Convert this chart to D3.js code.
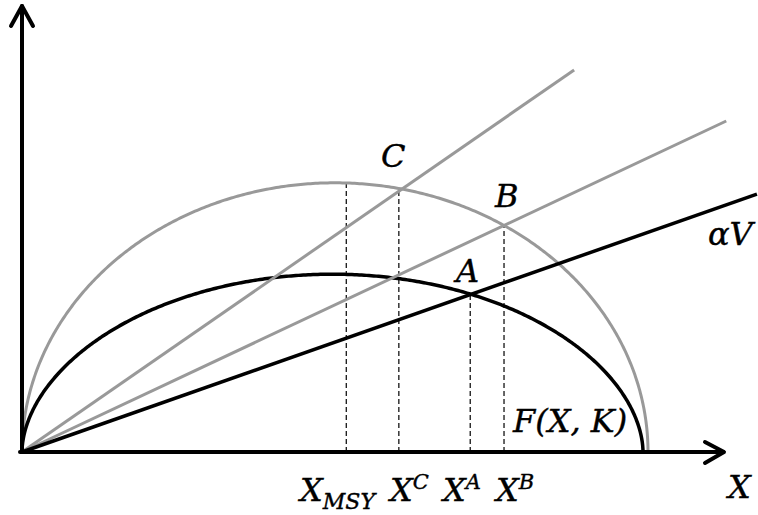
<!DOCTYPE html>
<meta charset="utf-8">
<style>
body { margin: 0; background: #fff; }
svg { display: block; }
.lbl { font-family: "DejaVu Serif", "Liberation Serif", serif; font-style: italic; fill: #000; stroke: #000; stroke-width: 0.4px; }
</style>
<body>
<div id="chart"></div>
<script src="https://d3js.org/d3.v7.min.js"></script>
<script>

// growth curves: gray (upper) and black F(X,K)
var curveNames = ["gray", "black"];
var curveK = [100, 99.2];
var curvePeak = [43.0, 28.4];
var curveExp = [0.5, 0.54];
var curveColors = ["#999999", "#000000"];

// rays from origin: C, B, alphaV
var rayNames = ["C", "B", "αV"];
var raySlopes = [0.692, 0.470, 0.351];
var rayEnds = [88.2, 112.5, 117.4];
var rayColors = ["#999999", "#999999", "#000000"];

// dashed drop lines
var markNames = ["MSY", "C", "A", "B"];
var markX = [51.8, 60.2, 71.6, 77.0];
var markCurve = [0, 0, 1, 0];

var width = 758, height = 515;
var x0 = 22, y0 = 452;

var x = d3.scaleLinear().domain([0, 100]).range([x0, 648]);
var y = d3.scaleLinear().domain([0, 70]).range([y0, y0 - 70 * 6.26]);

var svg = d3.select("#chart").append("svg")
    .attr("width", width)
    .attr("height", height);

function curveVal(i, v) {
    var t = 2 * v / curveK[i] - 1;
    if (Math.abs(t) >= 1) return 0;
    return curvePeak[i] * Math.pow(1 - t * t, curveExp[i]);
}

var line = d3.line()
    .x(function(d) { return x(d[0]); })
    .y(function(d) { return y(d[1]); });

// dashed lines
svg.append("g").selectAll("line")
    .data(markX)
    .enter().append("line")
    .attr("x1", function(d) { return x(d); })
    .attr("x2", function(d) { return x(d); })
    .attr("y1", y(0))
    .attr("y2", function(d, i) { return y(curveVal(markCurve[i], d)); })
    .attr("stroke", "#000")
    .attr("stroke-width", 1.2)
    .attr("stroke-dasharray", "5,3");

// curves
curveNames.forEach(function(name, i) {
    var pts = [];
    var n = 400;
    for (var k = 0; k <= n; k++) {
        // denser near the ends
        var u = (1 - Math.cos(Math.PI * k / n)) / 2;
        var v = u * curveK[i];
        pts.push([v, curveVal(i, v)]);
    }
    svg.append("path")
        .attr("d", line(pts))
        .attr("fill", "none")
        .attr("stroke", curveColors[i])
        .attr("stroke-width", i == 0 ? 3 : 3.5);
});

// rays
rayNames.forEach(function(name, i) {
    svg.append("path")
        .attr("d", line([[0, 0], [rayEnds[i], raySlopes[i] * rayEnds[i]]]))
        .attr("fill", "none")
        .attr("stroke", rayColors[i])
        .attr("stroke-width", i == 2 ? 3.5 : 3);
});

// axes
var axes = svg.append("g")
    .attr("fill", "none")
    .attr("stroke", "#000")
    .attr("stroke-width", 4)
    .attr("stroke-linecap", "round")
    .attr("stroke-linejoin", "round");

axes.append("path").attr("d", "M" + x0 + "," + y0 + "V6");
axes.append("path").attr("d", "M" + (x0 - 11) + ",26L" + x0 + ",6L" + (x0 + 11) + ",26");
axes.append("path").attr("d", "M" + (x0 - 2) + "," + y0 + "H723");
axes.append("path").attr("d", "M705,442L724," + y0 + "L705,463");

// labels
var fs = 32;
function label(tx, ty, parts) {
    var t = svg.append("text")
        .attr("class", "lbl")
        .attr("x", tx)
        .attr("y", ty)
        .style("font-size", fs + "px");
    parts.forEach(function(p) {
        var s = t.append("tspan").text(p[0]);
        if (p[1] == "sub") s.attr("dy", 8).style("font-size", "22px");
        if (p[1] == "sup") s.attr("dy", -12).style("font-size", "21px");
    });
    return t;
}

label(381, 167, [["C"]]);
label(495, 207, [["B"]]);
label(456, 282, [["A"]]);
label(708, 245, [["αV"]]);
label(513, 432, [["F(X, K)"]]);
label(728, 498, [["X"]]);

var labY = 501;
label(300, labY, [["X"], ["MSY", "sub"]]);
label(390, labY, [["X"], ["C", "sup"]]);
label(443, labY, [["X"], ["A", "sup"]]);
label(496, labY, [["X"], ["B", "sup"]]);

</script>
</body>
